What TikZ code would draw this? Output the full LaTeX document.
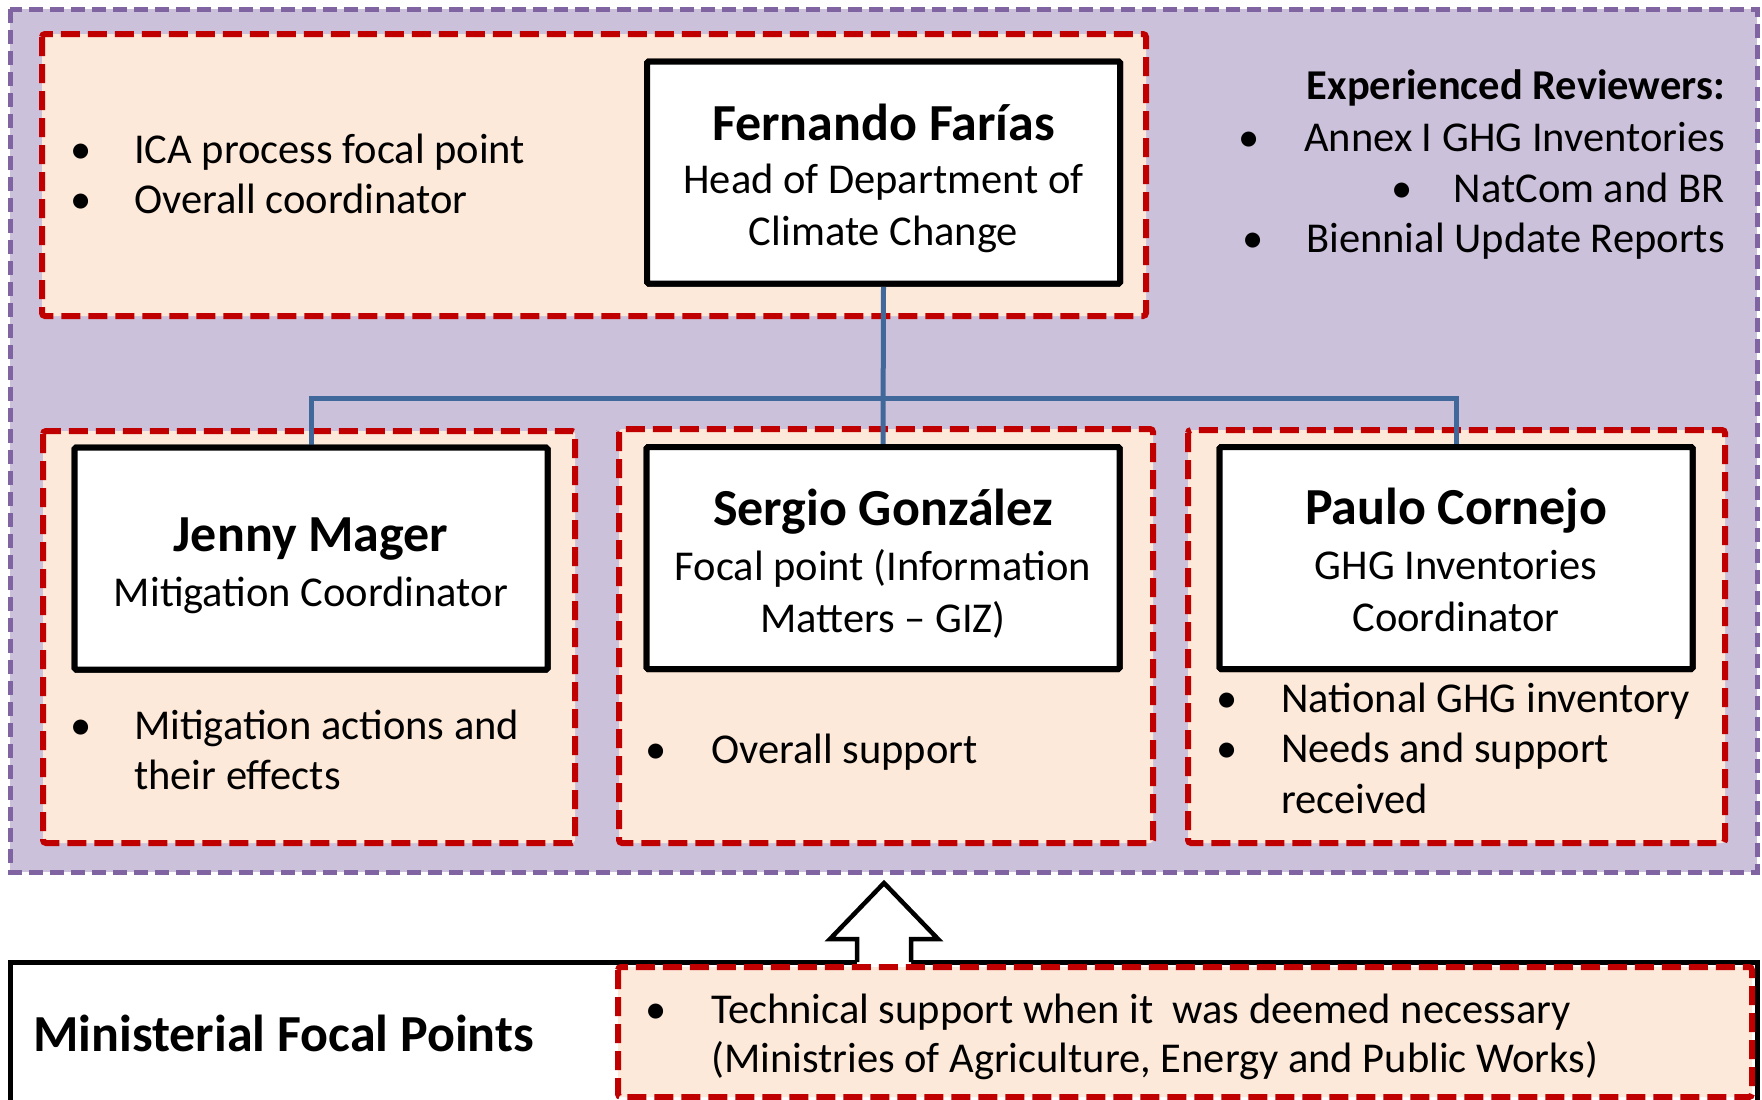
\documentclass[tikz,border=0pt]{standalone}
\usepackage{fontspec}
\setmainfont{Carlito}
\begin{document}
\begin{tikzpicture}[x=1pt,y=-1pt,
  purplebox/.style={draw=purpleline,fill=purplefill,line width=5pt,dash pattern=on 14pt off 7pt},
  redbox/.style={draw=redline,fill=peach,line width=6pt,dash pattern=on 19pt off 8pt,rounded corners=3pt},
  personbox/.style={draw=black,fill=white,line width=6pt,minimum width=473pt,minimum height=222pt,inner sep=0pt,rounded corners=1.5pt},
  conn/.style={draw=connblue,line width=5pt},
  rg/.style={font=\fontsize{42.5}{50}\selectfont,inner sep=0pt},
  bd/.style={font=\fontsize{52}{60}\selectfont\bfseries,inner sep=0pt},
  bdsmall/.style={font=\fontsize{42.5}{50}\selectfont\bfseries,inner sep=0pt},
  ctr/.style={anchor=base},
  lft/.style={anchor=base west},
  rgt/.style={anchor=base east},
  bul/.style={rg,anchor=base,text=black}
]
\definecolor{purplefill}{HTML}{CCC1DA}
\definecolor{purpleline}{HTML}{8064A2}
\definecolor{peach}{HTML}{FDE9D9}
\definecolor{redline}{HTML}{C00000}
\definecolor{connblue}{HTML}{41689A}
\useasboundingbox (0,0) rectangle (1762,1100);
\clip (0,0) rectangle (1762,1100);
\fill[white] (0,0) rectangle (1762,1100);

% outer purple area
\draw[purplebox] (10,9) rectangle (1757,872);

% red dashed boxes
\draw[redbox] (42,34) rectangle (1146,316);
\draw[redbox] (43,431) rectangle (575,843);
\draw[redbox] (619,429) rectangle (1153,843);
\draw[redbox] (1188,430) rectangle (1725,843);

% person boxes
\node[personbox] (fer) at (883.5,172.5) {};
\node[personbox] (jen) at (311,558.5) {};
\node[personbox] (ser) at (883,558) {};
\node[personbox] (pau) at (1456,558) {};

% connectors
\coordinate (bus) at (883,398);
\draw[conn] (fer.south) -- (ser.north);
\draw[conn] (jen.north) -- (jen.north |- bus) -| (pau.north);
% redraw box borders on top of connector ends
\node[personbox] at (fer) {};
\node[personbox] at (jen) {};
\node[personbox] at (ser) {};
\node[personbox] at (pau) {};

% Fernando
\node[bd,ctr] (fer1) at (883.5,140) {Fernando Farías};
\node[rg,ctr] (fer2) at (883.5,193) {Head of Department of};
\node[rg,ctr] (fer3) at (883.5,245) {Climate Change};

% top-left bullets
\node[bul] (tb1) at (81,163) {•};
\node[rg,lft] (tt1) at (134,163) {ICA process focal point};
\node[bul] (tb2) at (81,213) {•};
\node[rg,lft] (tt2) at (134,213) {Overall coordinator};

% experienced reviewers
\node[bdsmall,rgt] (er0) at (1725,99) {Experienced Reviewers:};
\node[bul] (erb1) at (1249,151) {•};
\node[rg,rgt] (er1) at (1725,151) {Annex I GHG Inventories};
\node[bul] (erb2) at (1402,202) {•};
\node[rg,rgt] (er2) at (1725,202) {NatCom and BR};
\node[bul] (erb3) at (1253,252) {•};
\node[rg,rgt] (er3) at (1725,252) {Biennial Update Reports};

% Jenny
\node[bd,ctr] (jen1) at (311,551) {Jenny Mager};
\node[rg,ctr] (jen2) at (311,606) {Mitigation Coordinator};
\node[bul] (lb1) at (81,739) {•};
\node[rg,lft] (lt1) at (134,739) {Mitigation actions and};
\node[rg,lft] (lt2) at (134,789) {their effects};

% Sergio
\node[bd,ctr] (ser1) at (883,525) {Sergio González};
\node[rg,ctr] (ser2) at (883,580) {Focal point (Information};
\node[rg,ctr] (ser3) at (883,632) {Matters – GIZ)};
\node[bul] (mb1) at (656,763) {•};
\node[rg,lft] (mt1) at (711,763) {Overall support};

% Paulo
\node[bd,ctr] (pau1) at (1456,524) {Paulo Cornejo};
\node[rg,ctr] (pau2) at (1456,579) {GHG Inventories};
\node[rg,ctr] (pau3) at (1456,631) {Coordinator};
\node[bul] (rb1) at (1227,712) {•};
\node[rg,lft] (rt1) at (1281,712) {National GHG inventory};
\node[bul] (rb2) at (1227,762) {•};
\node[rg,lft] (rt2) at (1281,762) {Needs and support};
\node[rg,lft] (rt3) at (1281,813) {received};

% bottom box
\draw[black,line width=5pt] (10,1130) -- (10,962) -- (1757,962) -- (1757,1130);
\fill[white] (857,967) -- (857,939) -- (830,939) -- (884,883) -- (938,939) -- (911,939) -- (911,967) -- cycle;
\draw[black,line width=4.5pt,line join=miter] (857,962) -- (857,939) -- (830,939) -- (884,883) -- (938,939) -- (911,939) -- (911,962);
\coordinate (arrowtip) at (884,883);

\draw[redbox] (618,967) rectangle (1752,1097);
\node[bd,lft] (mfp) at (33,1051) {Ministerial Focal Points};
\node[bul] (bb1) at (656,1023) {•};
\node[rg,lft] (bt1) at (711,1023) {Technical support when it\ \ was deemed necessary};
\node[rg,lft] (bt2) at (711,1072) {(Ministries of Agriculture, Energy and Public Works)};
\end{tikzpicture}
\end{document}
